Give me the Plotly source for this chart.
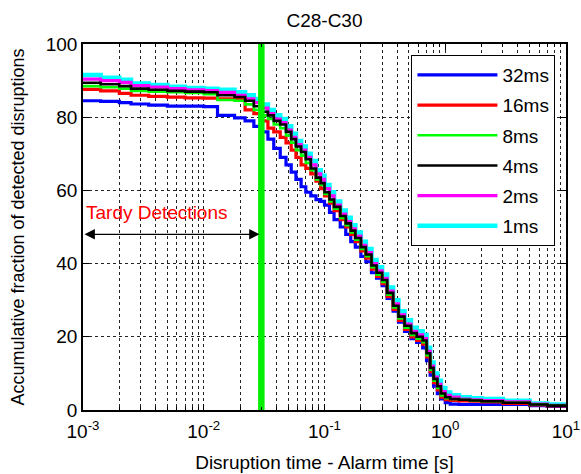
import numpy as np
import plotly.graph_objects as go

# Shared time grid (s): disruption time - alarm time
alarm_time_s = [0.001, 0.0014, 0.002, 0.0025, 0.0035, 0.005, 0.007, 0.01, 0.013, 0.018,
                0.022, 0.026, 0.03, 0.034, 0.038, 0.043, 0.048, 0.053, 0.058, 0.064,
                0.07, 0.077, 0.085, 0.093, 0.1, 0.11, 0.12, 0.135, 0.15, 0.165,
                0.18, 0.2, 0.22, 0.245, 0.27, 0.3, 0.33, 0.37, 0.41, 0.46,
                0.52, 0.58, 0.65, 0.7, 0.75, 0.8, 0.86, 0.92, 1.0, 1.1,
                1.3, 1.6, 2.0, 3.0, 5.0, 7.0, 10.0]

y_1ms = [91.5, 90.8, 90.2, 89.2, 88.8, 88.3, 88.0, 87.8, 87.5, 86.8,
         86.0, 85.0, 83.5, 82.0, 80.5, 79.5, 77.5, 75.5, 73.5, 72.0,
         70.0, 68.0, 65.5, 64.0, 61.5, 59.5, 57.0, 54.5, 52.5, 50.5,
         48.5, 46.0, 44.0, 41.0, 39.0, 37.0, 33.5, 30.0, 27.0, 24.5,
         22.5, 21.5, 20.5, 17.0, 13.0, 10.0, 8.0, 6.0, 4.8, 4.0,
         3.5, 3.2, 3.0, 2.5, 1.8, 1.5, 1.5]

y_2ms = [90.4, 90.0, 89.5, 88.6, 88.2, 87.8, 87.5, 87.3, 86.8, 86.0,
         85.0, 84.0, 82.5, 81.0, 79.5, 78.5, 76.5, 74.5, 72.5, 71.0,
         69.0, 67.0, 64.5, 63.0, 60.5, 58.5, 56.0, 53.5, 51.5, 49.5,
         47.5, 45.0, 43.0, 40.0, 38.0, 36.0, 32.5, 29.0, 26.0, 23.5,
         21.5, 20.5, 19.5, 16.0, 12.0, 9.0, 7.0, 5.0, 4.0, 3.5,
         3.0, 2.8, 2.6, 2.2, 1.6, 1.3, 1.3]

y_4ms = [89.4, 89.0, 88.5, 87.8, 87.5, 87.2, 87.0, 86.8, 86.0, 85.5,
         84.5, 83.0, 81.5, 80.5, 79.0, 78.0, 76.0, 74.0, 72.0, 70.5,
         68.5, 66.0, 63.5, 62.0, 59.5, 57.5, 55.5, 53.0, 51.0, 49.0,
         47.0, 44.5, 42.5, 39.5, 37.5, 35.5, 32.0, 28.5, 25.5, 23.0,
         21.0, 20.0, 19.0, 15.5, 11.5, 8.5, 6.5, 4.5, 3.5, 3.0,
         2.8, 2.6, 2.4, 2.0, 1.5, 1.2, 1.2]

y_8ms = [88.5, 88.2, 87.8, 87.2, 87.0, 86.8, 86.6, 86.3, 84.7, 84.5,
         83.5, 82.0, 80.5, 79.5, 78.0, 77.0, 75.0, 73.0, 71.0, 69.5,
         67.5, 65.5, 63.0, 61.5, 59.0, 57.0, 55.0, 52.5, 50.5, 48.5,
         46.5, 44.0, 42.0, 39.0, 37.0, 35.0, 31.5, 28.0, 25.0, 22.5,
         20.5, 19.5, 18.5, 15.0, 11.0, 8.0, 6.0, 4.0, 3.2, 3.0,
         2.8, 2.6, 2.4, 2.0, 1.5, 1.2, 1.2]

y_16ms = [87.6, 87.2, 86.5, 86.0, 85.7, 85.5, 85.3, 85.2, 85.0, 84.8,
          82.0, 81.0, 79.0, 77.0, 76.0, 74.5, 73.0, 71.0, 69.0, 67.0,
          66.0, 64.5, 62.5, 60.5, 58.5, 56.5, 54.5, 52.0, 50.0, 48.0,
          46.0, 43.5, 41.5, 38.5, 36.5, 34.5, 31.0, 27.5, 24.5, 22.0,
          20.0, 19.0, 18.0, 14.5, 10.5, 7.5, 5.5, 3.5, 2.8, 2.6,
          2.5, 2.4, 2.2, 1.8, 1.4, 1.1, 1.1]

y_32ms = [84.5, 84.3, 84.0, 83.6, 83.3, 83.0, 83.0, 82.9, 80.5, 79.8,
          79.0, 77.5, 76.0, 74.0, 71.5, 69.0, 67.0, 65.0, 63.0, 61.0,
          59.5, 58.5, 57.5, 57.0, 56.0, 54.0, 52.0, 50.0, 48.0, 46.0,
          44.5, 42.0, 40.5, 37.5, 36.0, 34.0, 30.5, 27.0, 24.0, 21.5,
          19.5, 18.5, 17.0, 13.5, 9.5, 6.5, 4.5, 3.0, 2.0, 1.6,
          1.5, 1.5, 1.5, 1.5, 1.2, 1.0, 1.0]

x_tickvals = [0.001, 0.01, 0.1, 1, 10]
x_ticktext = ["10<sup>-3</sup>", "10<sup>-2</sup>", "10<sup>-1</sup>",
              "10<sup>0</sup>", "10<sup>1</sup>"]
x_minor_tickvals = [m * d for d in [0.001, 0.01, 0.1, 1] for m in range(2, 10)]
y_tickvals = [0, 20, 40, 60, 80, 100]

threshold_s = 0.03
tardy_arrow_end_s = 0.029
tardy_arrow_y = 48
tardy_text_y = 54

FONT = "Liberation Sans, Arial, Helvetica, sans-serif"

# (name, values, colour, width, legend rank) in drawing order
series = [
    ("1ms", y_1ms, "#00ffff", 4.5, 6),
    ("2ms", y_2ms, "#ff00ff", 3.2, 5),
    ("32ms", y_32ms, "#0000ff", 3.2, 1),
    ("16ms", y_16ms, "#ff0000", 3.2, 2),
    ("8ms", y_8ms, "#00ff00", 2.6, 3),
    ("4ms", y_4ms, "#000000", 2.6, 4),
]

fig = go.Figure()
for name, vals, col, w, rank in series:
    fig.add_trace(go.Scatter(
        x=alarm_time_s, y=vals, mode="lines", name=name, legendgroup=name,
        line=dict(color=col, width=w, shape="hv"),
        legendrank=rank,
    ))

# threshold vertical line
fig.add_trace(go.Scatter(
    x=[threshold_s, threshold_s], y=[0, 100], mode="lines",
    line=dict(color="#00ee00", width=6.5), showlegend=False, hoverinfo="skip",
))

fig.add_annotation(
    x=np.log10(tardy_arrow_end_s), y=tardy_arrow_y,
    ax=np.log10(alarm_time_s[0]), ay=tardy_arrow_y,
    xref="x", yref="y", axref="x", ayref="y",
    text="", showarrow=True, arrowhead=2, arrowside="end+start",
    arrowsize=1.6, arrowwidth=1.3, arrowcolor="black",
)
fig.add_annotation(
    x=np.log10(alarm_time_s[0]), y=tardy_text_y, xref="x", yref="y",
    text="Tardy Detections", showarrow=False, xanchor="left", yanchor="middle",
    xshift=1, font=dict(color="#ff0000", size=19, family=FONT),
)

grid_common = dict(
    showgrid=True, gridcolor="#222222", gridwidth=1, griddash="3px,3px",
    showline=True, linecolor="black", linewidth=1.5, mirror="allticks",
    ticks="inside", ticklen=6, tickcolor="black", zeroline=False,
    tickfont=dict(size=19, family=FONT, color="black"), automargin=False,
)

fig.update_xaxes(
    type="log", range=[-3, 1],
    tickmode="array", tickvals=x_tickvals, ticktext=x_ticktext,
    ticklabelstandoff=3,
    minor=dict(tickmode="array", tickvals=x_minor_tickvals,
               ticks="inside", ticklen=3, tickcolor="black", showgrid=True,
               gridcolor="#222222", griddash="3px,3px", gridwidth=1),
    title=dict(text="Disruption time - Alarm time [s]",
               font=dict(size=19, family=FONT, color="black"), standoff=15),
    **grid_common,
)
fig.update_yaxes(
    range=[0, 100], tickmode="array", tickvals=y_tickvals,
    title=dict(text="Accumulative fraction of detected disruptions",
               font=dict(size=18, family=FONT, color="black"), standoff=16),
    **grid_common,
)

fig.update_layout(
    width=581, height=474,
    margin=dict(l=83, r=15, t=44, b=64, autoexpand=False),
    paper_bgcolor="white", plot_bgcolor="white",
    font=dict(family=FONT, color="black"),
    title=dict(text="C28-C30", x=0.5, xref="paper", y=1 - 20 / 474,
               yanchor="middle", xanchor="center",
               font=dict(size=19, family=FONT, color="black")),
    legend=dict(x=0.68, y=0.97, xanchor="left", yanchor="top",
                bgcolor="white", bordercolor="black", borderwidth=1,
                font=dict(size=19, family=FONT, color="black"),
                traceorder="grouped", itemwidth=80, tracegroupgap=2.5),
    showlegend=True,
)

fig.write_html("out.html")
